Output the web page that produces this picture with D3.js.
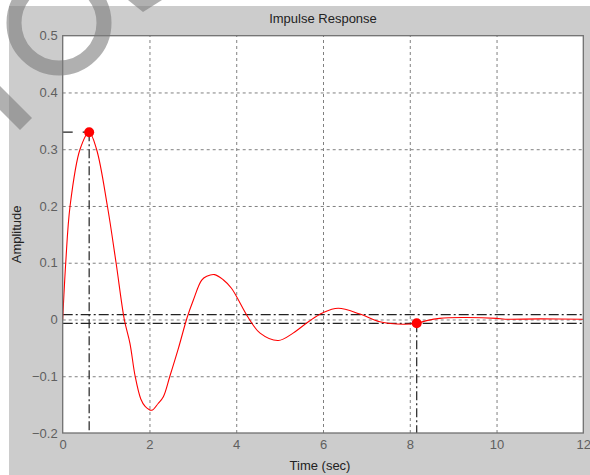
<!DOCTYPE html>
<html lang="en">
  <head>
    <meta charset="UTF-8" />
    <title>Impulse Response</title>
    <style>
      body { margin: 0; background: #fff; }
      svg { display: block; font-family: "Liberation Sans", Arial, sans-serif; }
      .grid line { stroke: #808080; stroke-dasharray: 3,3; }
      .grid .domain { display: none; }
      .ticks text { fill: #5f5f5f; font-size: 13px; }
      .ticks .domain, .ticks line { display: none; }
      .ref { fill: none; stroke: #222; stroke-width: 1.2; }
    </style>
  </head>
  <body>
    <svg width="590" height="475"></svg>
    <script src="https://cdn.jsdelivr.net/npm/d3@7"></script>
    <script>
      // values
      const time = [0, 0.07, 0.17, 0.40, 0.61, 0.78, 1.03, 1.23, 1.42, 1.55, 1.67, 1.80, 1.90, 2.05, 2.20, 2.32,
        2.47, 2.67, 2.87, 3.01, 3.20, 3.32, 3.50, 3.70, 3.89, 4.28, 4.55, 4.97, 5.31, 5.68, 6.00, 6.35, 6.85,
        7.31, 7.85, 8.16, 8.39, 8.69, 9.20, 10.0, 10.2, 11.0, 12.0];
      const amplitude = [0, 0.1, 0.2, 0.3, 0.33, 0.3, 0.2, 0.1, 0, -0.042, -0.1, -0.14, -0.153, -0.16, -0.148, -0.136,
        -0.1, -0.05, 0.004, 0.034, 0.069, 0.076, 0.079, 0.07, 0.055, 0.003, -0.024, -0.037, -0.024, -0.003, 0.012, 0.0197, 0.0097,
        -0.004, -0.0085, -0.0067, -0.002, 0.002, 0.0035, 0.002, 0.0005, 0.001, 0.0005];
      const xTicks = [0, 2, 4, 6, 8, 10, 12];
      const yTicks = [-0.2, -0.1, 0, 0.1, 0.2, 0.3, 0.4, 0.5];
      const peak = [0.61, 0.33];
      const settle = [8.16, -0.0067];
      const band = [0.0085, -0.007];

      const svg = d3.select('svg');
      const pl = 62.7, pr = 583.3, pt = 35.7, pb = 433;
      const x = d3.scaleLinear().domain([0, 12]).range([pl, pr]);
      const y = d3.scaleLinear().domain([-0.2, 0.5]).range([pb, pt]);

      // figure background
      svg.append('rect').attr('x', 9).attr('y', 6).attr('width', 581).attr('height', 469).attr('fill', '#cccccc');
      svg.append('rect').attr('x', pl).attr('y', pt).attr('width', pr - pl).attr('height', pb - pt).attr('fill', '#fff');

      // grid
      svg.append('g').attr('class', 'grid').attr('transform', 'translate(0,' + pb + ')')
        .call(d3.axisBottom(x).tickValues(xTicks.slice(1, -1)).tickSize(-(pb - pt)).tickFormat(''));
      svg.append('g').attr('class', 'grid').attr('transform', 'translate(' + pl + ',0)')
        .call(d3.axisLeft(y).tickValues(yTicks.slice(1, -1)).tickSize(-(pr - pl)).tickFormat(''));

      // settling band + reference lines
      band.forEach(v => {
        svg.append('line').attr('class', 'ref').attr('stroke-dasharray', '10,3,2,3')
          .attr('x1', x(0)).attr('x2', x(12)).attr('y1', y(v)).attr('y2', y(v));
      });
      svg.append('line').attr('class', 'ref').attr('stroke-dasharray', '10,10')
        .attr('x1', x(0)).attr('x2', x(peak[0])).attr('y1', y(peak[1])).attr('y2', y(peak[1]));
      svg.append('line').attr('class', 'ref').attr('stroke-dasharray', '9,3,2,3')
        .attr('x1', x(peak[0])).attr('x2', x(peak[0])).attr('y1', y(peak[1])).attr('y2', y(-0.2));
      svg.append('line').attr('class', 'ref').attr('stroke-dasharray', '9,3,2,3')
        .attr('x1', x(settle[0])).attr('x2', x(settle[0])).attr('y1', y(settle[1])).attr('y2', y(-0.2));

      // response curve
      const line = d3.line().x((d, i) => x(time[i])).y(d => y(d)).curve(d3.curveCatmullRom.alpha(0.5));
      svg.append('path').datum(amplitude).attr('d', line)
        .attr('fill', 'none').attr('stroke', '#ff0000').attr('stroke-width', 1.1);

      svg.selectAll('.marker').data([peak, settle]).enter().append('circle')
        .attr('class', 'marker').attr('cx', d => x(d[0])).attr('cy', d => y(d[1])).attr('r', 5).attr('fill', '#ff0000');

      // axes box
      svg.append('rect').attr('x', pl).attr('y', pt).attr('width', pr - pl).attr('height', pb - pt)
        .attr('fill', 'none').attr('stroke', '#707070').attr('stroke-width', 1.3);

      // tick labels
      svg.append('g').attr('class', 'ticks').attr('transform', 'translate(0,' + pb + ')')
        .call(d3.axisBottom(x).tickValues(xTicks).tickSize(0).tickPadding(7).tickFormat(d3.format('d')));
      svg.append('g').attr('class', 'ticks').attr('transform', 'translate(' + pl + ',0)')
        .call(d3.axisLeft(y).tickValues(yTicks).tickSize(0).tickPadding(5).tickFormat(d => d === 0 ? '0' : d3.format('.1f')(d)));

      // titles
      svg.append('text').attr('x', (pl + pr) / 2).attr('y', 23).attr('text-anchor', 'middle')
        .attr('font-size', 13).attr('fill', '#222').text('Impulse Response');
      svg.append('text').attr('x', (pl + pr) / 2 - 3).attr('y', 470).attr('text-anchor', 'middle')
        .attr('font-size', 13).attr('fill', '#222').text('Time (sec)');
      svg.append('text').attr('transform', 'translate(21,' + (pt + pb) / 2 + ') rotate(-90)')
        .attr('text-anchor', 'middle').attr('font-size', 13).attr('fill', '#222').text('Amplitude');

      // watermark strokes
      const wm = svg.append('g').attr('fill', 'none').attr('stroke', 'rgba(123,123,123,0.6)');
      wm.append('circle').attr('cx', 59).attr('cy', 23).attr('r', 45).attr('stroke-width', 15);
      wm.append('line').attr('x1', -10).attr('y1', 88).attr('x2', 26).attr('y2', 124).attr('stroke-width', 17);
      wm.append('path').attr('d', 'M128,0 L143,12 L162,0 Z').attr('stroke', 'none').attr('fill', 'rgba(123,123,123,0.6)');
    </script>
  </body>
</html>
